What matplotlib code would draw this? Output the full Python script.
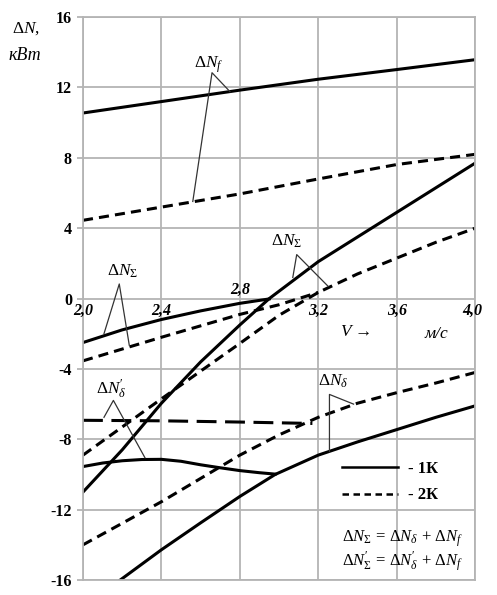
import matplotlib
matplotlib.use("Agg")
import matplotlib.pyplot as plt
from matplotlib.lines import Line2D

plt.rcParams["font.family"] = "Liberation Serif"
plt.rcParams["mathtext.fontset"] = "custom"
plt.rcParams["mathtext.rm"] = "Liberation Serif"
plt.rcParams["mathtext.it"] = "Liberation Serif:italic"
plt.rcParams["mathtext.bf"] = "Liberation Serif:bold"

# ---------------------------------------------------------------
# Data: V (m/s) -> dN (kW)
# ---------------------------------------------------------------
x_ticks = [2.0, 2.4, 2.8, 3.2, 3.6, 4.0]
y_ticks = [-16, -12, -8, -4, 0, 4, 8, 12, 16]

# regime 1K (solid)
nf1_v = [2.0, 2.4, 2.8, 3.2, 3.6, 4.0]
nf1 = [10.55, 11.2, 11.85, 12.47, 13.02, 13.58]
nsum1p_v = [2.0, 2.2, 2.4, 2.6, 2.8, 2.95]
nsum1p = [-2.5, -1.78, -1.19, -0.7, -0.27, -0.02]
nsum1_v = [2.0, 2.2, 2.4, 2.6, 2.8, 2.95, 3.2, 3.6, 4.0]
nsum1 = [-11.0, -8.6, -5.95, -3.6, -1.5, 0.0, 2.1, 4.9, 7.7]
nb1p_v = [2.0, 2.1, 2.2, 2.3, 2.4, 2.5, 2.6, 2.7, 2.8, 2.9, 2.98]
nb1p = [-9.55, -9.35, -9.22, -9.15, -9.14, -9.25, -9.45, -9.62, -9.78, -9.9, -9.98]
nb1_v = [2.19, 2.4, 2.6, 2.8, 2.98, 3.2, 3.4, 3.6, 3.8, 4.0]
nb1 = [-16.0, -14.28, -12.75, -11.25, -10.0, -8.9, -8.15, -7.45, -6.75, -6.1]

# regime 2K (dashed)
nf2_v = [2.0, 2.4, 2.8, 3.2, 3.6, 4.0]
nf2 = [4.45, 5.2, 5.95, 6.8, 7.62, 8.2]
nsum2p_v = [2.0, 2.4, 2.8, 3.0, 3.2]
nsum2p = [-3.54, -2.2, -0.9, -0.35, 0.35]
nsum2_v = [2.0, 2.4, 2.8, 3.0, 3.2, 3.4, 3.6, 3.8, 4.0]
nsum2 = [-8.9, -5.7, -2.55, -0.95, 0.35, 1.4, 2.3, 3.2, 4.0]
nb2p_v = [2.0, 2.4, 2.8, 3.17]
nb2p = [-6.92, -6.95, -7.02, -7.1]
nb2_v = [2.0, 2.4, 2.8, 3.0, 3.2, 3.4, 3.6, 3.8, 4.0]
nb2 = [-14.0, -11.55, -8.9, -7.75, -6.75, -5.95, -5.35, -4.8, -4.2]

# ---------------------------------------------------------------
fig = plt.figure(figsize=(4.97, 5.95), dpi=100)
ax = fig.add_axes([0.167, 0.0252, 0.789, 0.946])
ax.set_xlim(2.0, 4.0)
ax.set_ylim(-16, 16)

GRID = "#b4b4b4"
ax.set_xticks(x_ticks)
ax.set_yticks(y_ticks)
ax.grid(True, color=GRID, lw=1.3)
ax.set_axisbelow(True)
for s in ax.spines.values():
    s.set_color(GRID)
    s.set_linewidth(1.3)
ax.tick_params(axis="x", length=0, labelbottom=False)
ax.tick_params(axis="y", length=4, color=GRID, width=1.3, pad=4)
ax.set_yticklabels([str(v) for v in y_ticks], fontsize=11.5, fontweight="bold")

# x tick labels sit on the zero line
for v in x_ticks:
    yy = 0.5 if v == 2.8 else -0.72
    xx = min(v, 3.985)
    ax.text(xx, yy, f"{v:.1f}".replace(".", ","), ha="center", va="center",
            fontsize=11.5, fontweight="bold", style="italic")

LW = 2.2
DASH = (3.3, 2.0)
solid = dict(color="black", lw=LW, solid_joinstyle="round")
dashed = dict(color="black", lw=LW, dashes=DASH)

ax.plot(nf1_v, nf1, **solid)
ax.plot(nsum1p_v, nsum1p, **solid)
ax.plot(nsum1_v, nsum1, **solid)
ax.plot(nb1p_v, nb1p, **solid)
ax.plot(nb1_v, nb1, **solid)

ax.plot(nf2_v, nf2, **dashed)
ax.plot(nsum2p_v, nsum2p, **dashed)
ax.plot(nsum2_v, nsum2, **dashed)
ax.plot(nb2p_v, nb2p, color="black", lw=LW, dashes=(6.5, 2.8))
ax.plot(nb2_v, nb2, **dashed)

# labels with leader lines
LEAD = dict(color="#333333", lw=0.9)
notes = [
    (r"$\Delta N_f$", (2.643, 13.3), [(2.56, 5.52), (2.658, 12.84), (2.75, 11.76)]),
    (r"$\Delta N_\Sigma$", (3.04, 3.25), [(3.07, 1.2), (3.09, 2.5), (3.25, 0.7)]),
    (r"$\Delta N_\Sigma$", (2.2, 1.55), [(2.107, -2.0), (2.185, 0.83), (2.236, -2.65)]),
    (r"$\Delta N_{\delta}^{\prime}$", (2.143, -5.1),
     [(2.107, -6.75), (2.155, -5.79), (2.316, -9.05)]),
    (r"$\Delta N_\delta$", (3.276, -4.7), [(3.38, -6.0), (3.257, -5.45), (3.257, -8.7)]),
]
for txt, (tx, ty), pts in notes:
    ax.text(tx, ty, txt, ha="center", va="center", fontsize=12.5)
    ax.plot([p[0] for p in pts], [p[1] for p in pts], **LEAD)

# axis captions
fig.text(26 / 497, 1 - 29 / 595, r"$\Delta N$,", ha="center", va="center", fontsize=12.5)
fig.text(25 / 497, 1 - 56 / 595, "кВт", ha="center", va="center",
         fontsize=13, style="italic")
ax.text(3.39, -1.9, r"$V$ →", ha="center", va="center", fontsize=12.5)
ax.text(3.8, -2.0, "м/с", ha="center", va="center", fontsize=12.5, style="italic")

# legend
handles = [Line2D([], [], color="black", lw=1.8),
           Line2D([], [], color="black", lw=1.8, dashes=(2.6, 1.8))]
ax.legend(handles, ["- 1К", "- 2К"], loc="upper left",
          bbox_to_anchor=(0.638, 0.226), frameon=False, borderpad=0,
          handlelength=3.4, handletextpad=0.6, labelspacing=0.62,
          prop={"weight": "bold", "size": 12})

# formulas
ax.text(3.94, -13.65,
        r"$\Delta N_\Sigma\,=\,\Delta N_\delta\,+\,\Delta N_f$",
        ha="right", va="center", fontsize=12)
ax.text(3.94, -14.95,
        r"$\Delta N_{\Sigma}^{\prime}\,=\,\Delta N_{\delta}^{\prime}\,+\,\Delta N_f$",
        ha="right", va="center", fontsize=12)

fig.savefig("out.png", dpi=100)
